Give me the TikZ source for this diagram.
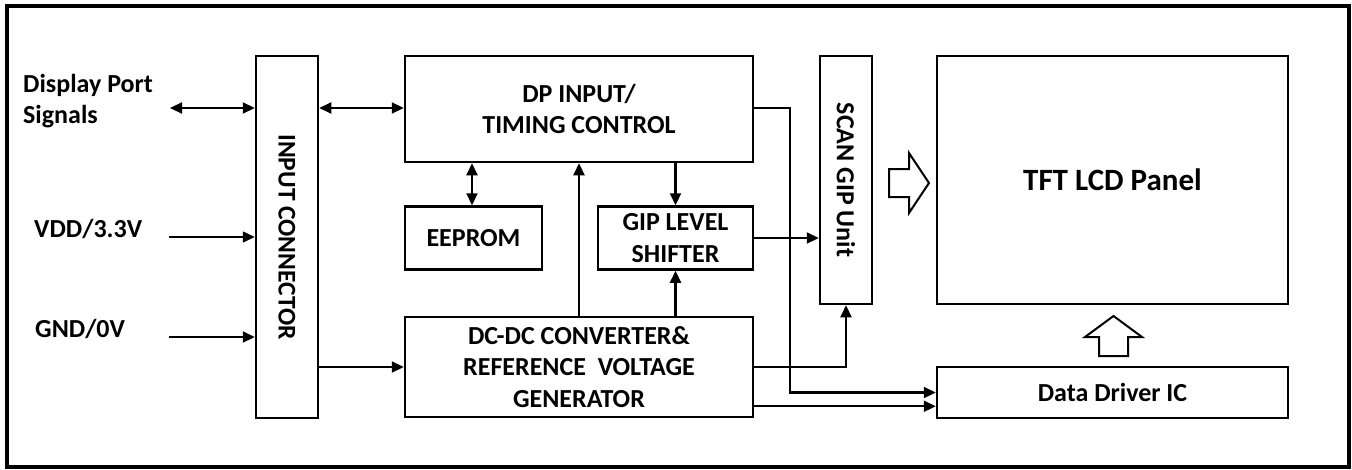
\documentclass[tikz,border=0pt]{standalone}
\usepackage{fontspec}
\setmainfont{Carlito}
\usetikzlibrary{arrows.meta,calc}
\begin{document}
\begin{tikzpicture}[x=1pt,y=-1pt,
  box/.style={draw, line width=2.5pt, inner sep=0pt, align=center,
    font=\bfseries\fontsize{26}{31.5}\selectfont},
  tip/.tip={Triangle[length=12pt,width=11pt]},
  arr/.style={line width=2.2pt, -{tip}},
  darr/.style={line width=2.2pt, {tip}-{tip}},
  lbl/.style={font=\bfseries\fontsize{26}{31.5}\selectfont, inner sep=0pt},
  hollow/.style={draw, line width=2pt, line join=miter}]
\useasboundingbox (0,0) rectangle (1352,469);
\draw[line width=4pt] (6.5,6) rectangle (1349,467);

% boxes
\node[box, minimum width=62pt, minimum height=362pt] (conn) at (287,237) {};
\node[font=\bfseries\fontsize{25.5}{30}\selectfont, rotate=-90, inner sep=0pt] (connlbl) at (conn.center) {INPUT CONNECTOR};
\node[box, minimum width=348pt, minimum height=106pt] (dp) at (579,109) {DP INPUT/\\TIMING CONTROL};
\node[box, minimum width=137pt, minimum height=63pt] (eeprom) at (473.5,238) {EEPROM};
\node[box, minimum width=155pt, minimum height=63pt] (gip) at (675.5,238) {GIP LEVEL\\SHIFTER};
\node[box, minimum width=348pt, minimum height=100pt] (dcdc) at (579,367) {DC-DC CONVERTER\&\\REFERENCE\ \ VOLTAGE\\GENERATOR};
\node[box, minimum width=52pt, minimum height=248pt] (scan) at (846,180) {};
\node[lbl, rotate=-90] (scanlbl) at (scan.center) {SCAN GIP Unit};
\node[box, minimum width=351pt, minimum height=248pt, font=\bfseries\fontsize{31}{36}\selectfont] (tft) at (1112.5,180) {TFT LCD Panel};
\node[box, minimum width=351pt, minimum height=51pt, font=\bfseries\fontsize{26}{30}\selectfont] (ddic) at (1112.5,392.5) {Data Driver IC};

% left labels
\node[lbl, anchor=base west] (dps1) at (23,92) {Display Port};
\node[lbl, anchor=base west] (dps2) at (23,123) {Signals};
\node[lbl, anchor=base west] (vdd) at (34,237) {VDD/3.3V};
\node[lbl, anchor=base west] (gnd) at (35,337) {GND/0V};

\coordinate (dpsL) at (170,108);
\coordinate (vddL) at (169,237);
\coordinate (gndL) at (169,337);
\coordinate (bend) at (790,108);

% connectors
\draw[darr] (dpsL) -- (dpsL -| conn.west);
\draw[line width=1.5pt, -{tip}] (vddL) -- (vddL -| conn.west);
\draw[arr] (gndL) -- (gndL -| conn.west);
\draw[darr] (conn.east |- dpsL) -- (dpsL -| dp.west);
\draw[arr] (conn.east |- dcdc.west) -- (dcdc.west);
\draw[darr] ($(eeprom.north)+(-1.5,0)$) -- ($(dp.south)+(-107,0)$);
\draw[arr] (dcdc.north) -- (dp.south);
\draw[arr] (dp.south -| gip.north) -- (gip.north);
\draw[arr] (dcdc.north -| gip.south) -- (gip.south);
\draw[arr] (gip.east) -- (gip.east -| scan.west);
\draw[arr] (dp.east |- bend) -- (bend) |- (ddic.west);
\draw[arr] (dcdc.east) -| (scan.south);
\draw[arr] ($(dcdc.south east)+(0,-12)$) -- ($(ddic.south west)+(0,-13)$);

% hollow arrows
\draw[hollow] (889,169) -- (909,169) -- (909,153) -- (929,183) -- (909,213) -- (909,197) -- (889,197) -- cycle;
\draw[hollow] (1099,356) -- (1099,337) -- (1085,337) -- (1113.5,316) -- (1142,337) -- (1128,337) -- (1128,356) -- cycle;
\end{tikzpicture}
\end{document}
